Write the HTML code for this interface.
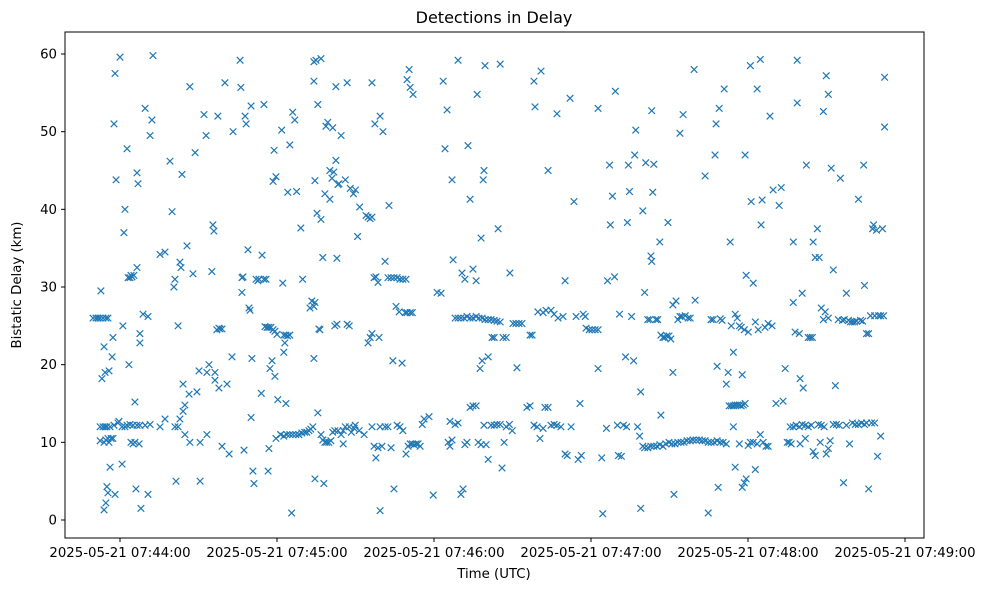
<!DOCTYPE html>
<html><head><meta charset="utf-8">
<style>
body{margin:0;background:#fff;}
svg{display:block;font-family:"DejaVu Sans","Liberation Sans",sans-serif;}
</style></head>
<body>
<svg id="chart" width="988" height="590" viewBox="0 0 988 590" xmlns="http://www.w3.org/2000/svg">
<rect width="988" height="590" fill="#fff"/>
<text x="494" y="23" text-anchor="middle" font-size="16">Detections in Delay</text>
<text x="494" y="578" text-anchor="middle" font-size="13.3">Time (UTC)</text>
<text transform="translate(21,285) rotate(-90)" text-anchor="middle" font-size="13.3">Bistatic Delay (km)</text>
<g id="marks"></g>
<g id="axes"></g>
<rect x="65" y="32" width="859" height="506" fill="none" stroke="#000" stroke-width="1"/>
</svg>
<script>
// times in seconds after 07:43:00 UTC; delays in km
const times = [
49.7,50.8,51.6,52.4,53.5,54.6,55.4,53.9,52.7,53.1,54.3,55,53.9,54.6,55.4,56.2,56.6,53.9,54.6,55.4,55.8,57.3,55.8,57,57.3,57.7,58.1,58.5,60,60.8,61.1,61.5,61.9,62.7,63.1,63.8,64.6,65.3,64.2,63.4,64.2,65,65.7,66.5,67.3,65.7,66.1,66.5,66.5,66.9,67.6,67.6,68,68.8,69.6,70.7,70.7,71.5,72.2,72.6,52.4,52.4,53.5,54.3,55,56.2,57.7,59.2,60.8,61.9,62.7,63.8,65,67.6,69.6,71.5,58.1,59.6,
75.3,77.2,77.2,79.1,79.9,80.6,81,81.4,82.2,82.2,82.9,83.3,83.7,84.1,84.1,84.8,85.6,86.4,86.7,87.9,88.7,89.4,90.2,90.6,90.6,92.1,92.9,93.2,94,95.1,95.5,95.9,96.3,96.3,97,97.8,98.2,99,97.4,97.8,99,100.1,100.9,101.7,102.8,103.2,105.9,106.2,106.6,107,106.6,107.4,107.8,108.2,108.9,109.3,109.7,110.1,110.1,110.4,110.8,111.2,112,112.7,113.1,114,114.3,115,115.8,115,115.4,116.2,116.9,117.7,118.5,119.2,120,116.6,116.9,117.3,118.1,118.5,118.9,119.6,119.6,119.2,120.3,121.4,121.8,122.2,122.6,123.4,124.1,124.9,122.6,123,123.4,124.1,124.9,125.6,126,126.8,127.5,128.3,129.1,129.8,130.6,131.4,132.2,132.9,133.7,134.5,132.6,133.3,134.1,134.5,134.1,134.1,134.9,136.8,135.6,134.1,134.5,135.3,135.6,136,136.4,136.8,137.5,137.9,138.3,138.7,139.4,140.2,140.2,141,141.7,142.5,143.3,143.7,142.5,141.3,142.9,144.5,145.3,146.1,146.8,147.6,146.8,146.1,148,149.2,150,150.8,151.6,142.1,142.9,136.8,137.5,138.3,139,139.8,140.6,141.3,142.1,143.3,144.5,145.3,148.4,149.9,
75.3,81,82.9,84.8,86.7,93.2,121.4,122.6,123.8,124.9,126,127.2,128.3,129.5,147.6,149.5,151.4,153.3,
154,154.8,155.6,156.3,154.8,155.6,156.3,157.1,157.8,156.3,157.4,159.4,160.5,161.3,162.8,162.4,163.6,164.7,165.9,167,168.1,169.3,164.3,165.5,166.7,167.8,169,169.7,170.9,171.7,169.7,170.5,170.9,172,156.3,157.1,157.8,158.6,159.4,160.1,161.3,162.4,163.6,164.7,165.9,167,168.1,169.3,170.1,170.9,171.7,172.4,173.2,173.9,174.7,175.5,176.2,178.1,179.7,159.4,158.6,159,181.2,182.7,
183.5,184.2,185,185.4,186.1,186.9,187.3,188.1,189.2,190.3,191.5,192.6,193.8,194.9,196.1,197.2,198.4,199.5,200.7,201.8,203,204.1,205.3,189.2,190.7,191.8,193,193.8,194.9,196.1,196.5,198,198.8,199.1,199.5,200.7,197.6,198.4,202.2,203,204.5,205.3,206.4,207.6,209,210.2,211.3,212.5,211.7,213.6,215.5,216.7,217.5,218.2,218.6,219.7,220.9,221.7,222.8,223.6,224.7,225.9,227,227.4,229.3,230.1,232,233.5,234.3,235.8,237,238.1,239.3,240.4,241.6,242.7,242.7,242.7,
186.1,186.9,188.1,189.2,190.3,191.1,191.8,192.6,193.8,194.9,196.1,196.9,198,199.1,199.9,200.7,201.8,203,204.1,205.3,206,206.8,207.6,208.8,209.9,216.7,218.2,219.4,220.5,221.7,222.4,223.6,224.7,225.9,227,228.5,230.1,230.9,232.4,235.1,236.3,237.8,
244.1,244.5,245.9,246.3,247.1,247.4,248.2,249,249.3,250.1,250.5,250.9,251.6,252.4,253.2,253.6,253.9,254.3,254.7,255.5,256.3,256.7,257.1,257.8,258.6,259,259,259.8,260.5,260.9,261.7,262.5,262.9,263.2,263.6,263.2,264,264.8,265.5,266.3,266.7,267.5,268.2,269,269.4,269.8,270.5,271.3,271.3,271.7,272.5,273.2,274,274.8,274,275.2,276,277.1,277.9,279.4,279.8,283.6,284.8,285.9,286.7,287.4,287.8,288.2,288.6,289,289.4,290.1,290.9,291.7,292.4,293.2,293.6,294.4,295.1,295.9,296.7,297.4,297.8,298.6,298.9,299.3,300.1,300.9,301.2,302,302.8,303.5,303.9,304.7,305,305.4,
259.8,260.5,261.7,262.9,264,265.2,266.3,266.7,267.5,268.6,269.8,270.9,272.1,273.2,274.4,275.5,276.7,277.9,279,280.2,281.4,282.5,283.6,284.8,285.9,287.1,288.2,289.4,290.5,291.7,292.8,293.6,294.4,295.1,295.9,296.7,297.4,298.2,298.9,295.1,296.7,297.8,298.6,299.3,300.1,300.9,302,302.8,303.5,294.4,304.7,305.8,306.9,307.7,
306.5,307.7,308.4,309.2,309.6,310.7,311.9,312.7,313.4,314.2,315,315.7,316.5,317.3,317.3,318,318.8,318.8,319.6,319.9,320.7,321.1,322.3,323,323.8,324.6,324.9,325.7,326.5,327.2,328,328.8,328.8,329.9,330.7,329.5,330.7,331.8,332.6,333.4,334.5,335.3,336.1,336.8,337.6,338.4,339.1,339.9,340.7,341.5,342.2,343,343.8,344.2,344.5,345.3,346.1,346.8,347.6,348,348.4,349.1,349.9,350.7,351.4,351.8,352.2,352.2,
316.1,317.3,318.4,319.6,320.7,321.9,323,324.2,324.9,325.7,326.9,328,329.1,329.9,330.7,331.4,332.6,333.8,334.9,336.5,337.6,338.8,339.9,341,342.2,343.4,344.5,345.3,346.1,347.2,348.4,349.5,350.7,327.6,319.9,321.9
];
const delays = [
26,26,26,26,26,26,26,22.3,29.5,18.2,19,4.3,1.3,2.2,3.5,6.8,10.5,10,10.3,10.5,10,10.5,19.2,21,23.5,51,57.5,43.8,59.6,7.2,25,37,40,47.8,31.2,31.2,31.3,31.5,31.5,20,10,9.8,15.2,12.2,9.8,10,4,32.5,44.7,43.3,24,22.8,1.5,26.5,53,26.2,3.3,49.5,51.5,59.8,10.2,12,12,12,12,12,12.2,12.5,12,12,12.2,12.3,12.2,12.2,12.2,12.3,3.3,12.7,
34.2,34.5,13,46.2,39.7,30,31,5,12,25,33.2,32.5,44.5,17.5,14,14.8,35.3,16.2,55.8,31.7,47.3,16.5,19.2,5,10,52.2,49.5,19,20,32,38,37.2,19,18,24.5,24.7,24.6,24.6,52,17,9.5,56.3,17.5,8.5,21,50,59.2,55.7,31.2,31.3,29.3,9,52,51,34.8,27.3,27,53.3,13.2,20.8,6.3,4.7,31,30.8,31,16.3,34.1,31,31,53.5,24.9,24.8,24.8,24.8,24.5,24.3,23.9,6.3,9.2,19.5,20.5,43.6,47.6,44.2,10.5,18.5,15.5,11,50.2,30.5,23.8,23.8,23.7,23.8,21.6,22.8,15,42.2,48.3,0.9,52.5,51.5,42.3,11,37.6,31,11.3,11.3,11.5,11.7,12,43.7,27.3,28.2,27.5,28,20.8,59,59.2,59.4,53.5,56.5,5.3,39.5,13.8,24.6,24.5,38.7,33.8,4.7,42,50.7,51.2,41.3,45,44,44.8,46.3,43.2,43.3,55.8,50.5,33.7,49.5,11.5,12,25.2,25,56.3,43.8,42.7,42,42.5,36.5,40.3,25,25.2,11,10.3,10,10,10,10.2,11.3,11.5,11.5,11,9.8,11.3,12.2,
12,12,13,11,10,11,11,10.8,11,11,11,11,11,11.2,12,11.8,11.5,11,
39.2,39,38.8,39,22.8,23.5,24,31.2,31.3,56.3,51,52,50,33.3,40.5,31.2,31.2,31.2,31.2,31,31,31,20.5,27.5,26.8,20.2,26.7,26.7,26.7,26.7,56.7,58,55.7,54.8,12,9.5,8,9.3,12,9.5,12,12,9.3,4,12.2,12,11.5,8.5,9.5,9.8,9.8,9.7,9.8,9.8,9.5,12.3,13,13.3,3.2,1.2,30.6,23.5,29.3,29.2,
56.5,47.8,52.8,10,12.7,43.8,33.5,26,26,26,26,26.2,26,26,26.2,26,26,25.8,25.8,25.8,25.7,25.6,25.5,59.2,31.8,31,48.2,41.3,32.3,30.8,54.8,36.3,43.8,45,58.5,21,19.5,20.5,23.5,23.5,37.5,58.7,23.5,23.5,31.8,25.3,25.3,25.3,19.6,25.3,14.5,23.8,23.8,56.5,53.2,26.8,57.8,26.7,27,45,27,26.5,52.3,26,26.2,30.8,54.3,41,26.2,15,26.5,24.7,24.5,24.5,24.5,24.5,53,19.5,
9.5,10.3,12.3,12.5,3.3,4,9.7,10,14.5,14.7,14.7,10,9.7,12.2,9.7,7.8,12.2,12.2,12.3,12.3,6.7,10,12,12.3,11.5,14.7,12.2,12,10.5,11.8,14.5,14.5,12.2,12.3,12.2,12,8.5,8.3,12,7.8,8.3,26.2,
8,0.8,11.8,30.8,45.7,38,41.7,31.3,55.2,12.2,8.3,26.5,8.2,12.2,21,12,38.3,45.7,42.3,26.2,20.5,47,50.2,12,10.8,16.5,1.5,39.8,29.3,46,25.8,25.8,34,33.3,42.2,52.7,45.8,25.8,25.8,35.8,23.8,23.5,23.5,23.7,38.3,23.7,23.3,27.7,19,3.3,28.2,25.8,26.2,26.2,49.8,52.2,26.3,26,26,58,28.3,44.3,0.9,25.8,25.8,47,51,19.8,4.2,53,25.9,25.7,55.5,17.5,19,35.8,25,21.6,26.5,26,25,24.8,18.7,24.5,47,31.5,24.2,58.5,41,30.5,25.5,55.5,24.5,59.3,38,41.2,
9.5,9.3,9.3,9.5,9.5,9.5,9.7,13.5,9.5,9.8,10,9.8,9.8,10,10,10,10.2,10.2,10.3,10.3,10.3,10.2,10.2,10,10,10,10.2,10,10,9.8,14.7,14.7,14.7,14.8,14.8,14.8,14.7,14.8,15,6.8,9.8,4.2,4.8,5.3,9.6,10,10,6.5,9.8,12,11,10,9.5,9.5,
24.8,25.3,52,25,42.5,15,40.5,42.8,15.3,19.5,10,10,9.8,35.8,28,24.2,59.2,53.7,24,18.2,29.2,17,45.7,23.5,23.5,23.5,35.8,33.8,37.5,33.8,27.3,25.8,52.6,57.2,54.8,26.8,26,45.3,32.2,17.3,25.8,44,25.7,25.8,29.2,25.7,25.5,25.5,25.5,25.6,41.3,25.7,25.6,45.7,30.2,24,24,26.3,37.5,38,26.3,37.3,26.3,26.3,37.5,26.3,57,50.6,
12,12,12.2,12,12.3,12.2,12,12.2,8.8,8.3,12.3,12.2,12,8.5,9.2,10.2,12.3,12.3,12.2,4.8,12.2,9.8,12.5,12.3,12.3,12.5,12.3,12.5,4,12.5,12.5,8.2,10.8,10,9.8,10.5
];
const yTicks = [0,10,20,30,40,50,60];
const xTicks = [60,120,180,240,300,360];
const xTickLabels = ["2025-05-21 07:44:00","2025-05-21 07:45:00","2025-05-21 07:46:00","2025-05-21 07:47:00","2025-05-21 07:48:00","2025-05-21 07:49:00"];

const NS = "http://www.w3.org/2000/svg";
function xScale(s){ return 120 + (s - 60) * (785 / 300); }
function yScale(v){ return 520 - v * (466 / 60); }

const marks = document.getElementById('marks');
const n = Math.min(times.length, delays.length);
for (let i = 0; i < n; i++) {
  const cx = xScale(times[i]), cy = yScale(delays[i]), r = 3.3;
  const p = document.createElementNS(NS, 'path');
  p.setAttribute('d', `M${cx-r},${cy-r}L${cx+r},${cy+r}M${cx-r},${cy+r}L${cx+r},${cy-r}`);
  p.setAttribute('stroke', '#1f77b4');
  p.setAttribute('stroke-width', '1.2');
  p.setAttribute('fill', 'none');
  
  
  marks.appendChild(p);
}

const axes = document.getElementById('axes');
yTicks.forEach(v => {
  const y = yScale(v);
  const l = document.createElementNS(NS, 'line');
  l.setAttribute('x1', 65); l.setAttribute('x2', 61);
  l.setAttribute('y1', y); l.setAttribute('y2', y);
  l.setAttribute('stroke', '#000');
  
  
  axes.appendChild(l);
  const t = document.createElementNS(NS, 'text');
  t.setAttribute('x', 57); t.setAttribute('y', y + 4.5);
  t.setAttribute('text-anchor', 'end');
  t.setAttribute('font-size', '13.3');
  t.textContent = String(v);
  
  
  axes.appendChild(t);
});
xTicks.forEach((s, i) => {
  const x = xScale(s);
  const l = document.createElementNS(NS, 'line');
  l.setAttribute('x1', x); l.setAttribute('x2', x);
  l.setAttribute('y1', 538); l.setAttribute('y2', 542);
  l.setAttribute('stroke', '#000');
  
  
  axes.appendChild(l);
  const t = document.createElementNS(NS, 'text');
  t.setAttribute('x', x); t.setAttribute('y', 557);
  t.setAttribute('text-anchor', 'middle');
  t.setAttribute('font-size', '13.3');
  t.textContent = xTickLabels[i];
  
  
  axes.appendChild(t);
});
</script>
</body></html>
